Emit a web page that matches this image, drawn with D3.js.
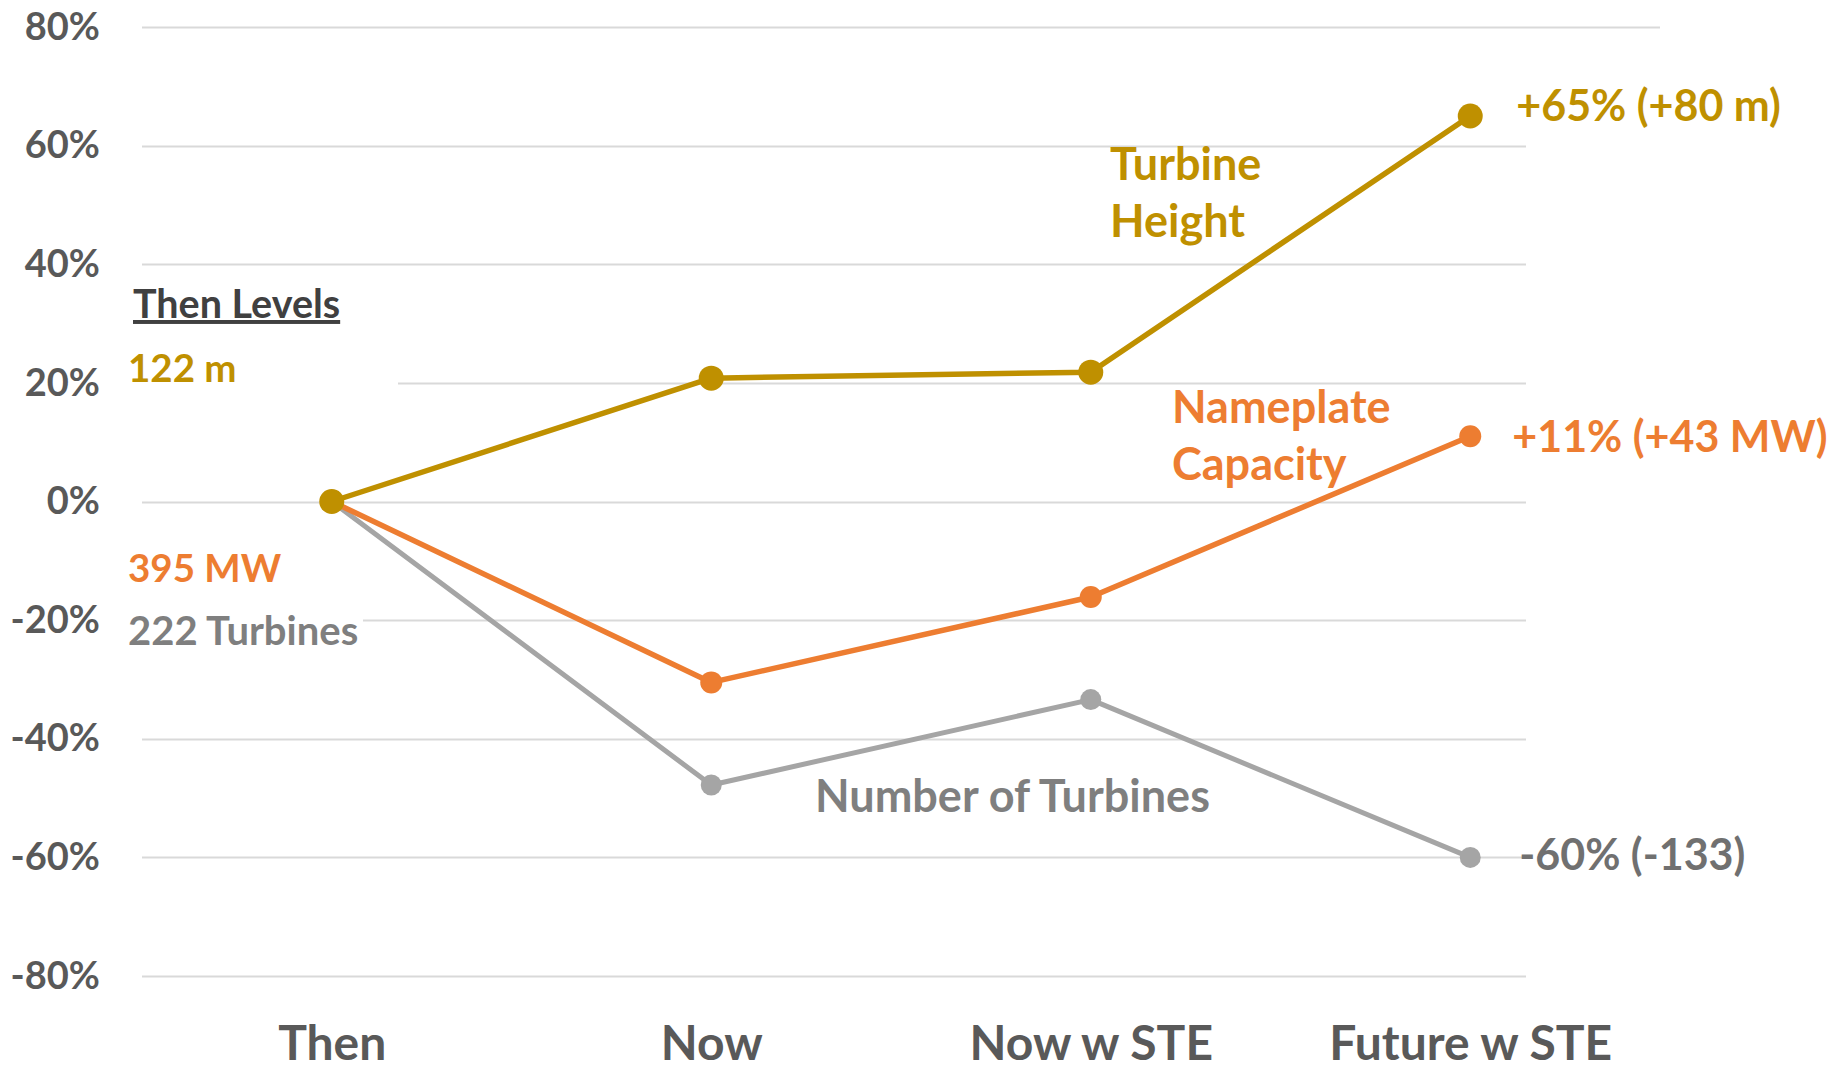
<!DOCTYPE html>
<html>
<head>
<meta charset="utf-8">
<script src="https://cdn.jsdelivr.net/npm/d3@7"></script>
<style>
  body { margin: 0; background: #fff; }
  text { font-family: Lato, "Open Sans", sans-serif; font-weight: bold; }
</style>
</head>
<body>
<script>
// data (% change relative to "Then")
var categories = ["Then", "Now", "Now w STE", "Future w STE"];
var heightPct = [0, 20.8, 21.8, 65];
var capacityPct = [0, -30.5, -16.1, 11];
var turbinesPct = [0, -47.8, -33.4, -60];
var yTicks = [-80, -60, -40, -20, 0, 20, 40, 60, 80];
var seriesNames = ["Turbine Height", "Nameplate Capacity", "Number of Turbines"];
var endLabels = ["+65% (+80 m)", "+11% (+43 MW)", "-60% (-133)"];
var thenLevels = ["122 m", "395 MW", "222 Turbines"];

var width = 1827, height = 1065;
var plot = {left: 142, right: 1660, top: 27, bottom: 976};

var svg = d3.select("body").append("svg")
    .attr("width", width)
    .attr("height", height);

var x = d3.scalePoint()
    .domain(categories)
    .range([plot.left, plot.right])
    .padding(0.5);

var y = d3.scaleLinear()
    .domain([-80, 80])
    .range([plot.bottom, plot.top]);

// gridlines
svg.append("g").selectAll("line")
    .data(yTicks)
  .enter().append("line")
    .attr("x1", plot.left)
    .attr("x2", plot.right)
    .attr("y1", function(d) { return Math.round(y(d)) + 0.5; })
    .attr("y2", function(d) { return Math.round(y(d)) + 0.5; })
    .style("stroke", "#d9d9d9")
    .style("stroke-width", 2);

// white text-box backgrounds that hide parts of the grid (as in the original)
svg.append("rect").attr("x", plot.left - 2).attr("y", y(24)).attr("width", 398 - plot.left + 2).attr("height", 40).style("fill", "#fff");
svg.append("rect").attr("x", plot.left - 2).attr("y", y(-16)).attr("width", 363 - plot.left + 2).attr("height", 40).style("fill", "#fff");
svg.append("rect").attr("x", 1526).attr("y", y(66)).attr("width", 140).attr("height", y(-84) - y(66)).style("fill", "#fff");

// axes
var yAxis = d3.axisLeft(y)
    .tickValues(yTicks)
    .tickSize(0)
    .tickPadding(42)
    .tickFormat(function(d) { return d + "%"; });

svg.append("g")
    .attr("transform", "translate(" + plot.left + ",0)")
    .call(yAxis)
    .call(function(g) { g.select(".domain").remove(); })
    .selectAll("text")
      .style("font-family", "Lato, sans-serif")
      .style("font-size", "38px")
      .style("font-weight", "bold")
      .style("fill", "#595959");

var xAxis = d3.axisBottom(x)
    .tickSize(0)
    .tickPadding(50);

svg.append("g")
    .attr("transform", "translate(0," + plot.bottom + ")")
    .call(xAxis)
    .call(function(g) { g.select(".domain").remove(); })
    .selectAll("text")
      .style("font-family", "Lato, sans-serif")
      .style("font-size", "48px")
      .style("font-weight", "bold")
      .style("fill", "#595959");

// series, drawn gray first so gold sits on top
var series = [
  {name: seriesNames[2], values: turbinesPct, color: "#a5a5a5", r: 10.5, w: 5},
  {name: seriesNames[1], values: capacityPct, color: "#ed7d31", r: 11, w: 5.5},
  {name: seriesNames[0], values: heightPct, color: "#bf9000", r: 12.5, w: 5.5}
];

var line = d3.line()
    .x(function(d, i) { return x(categories[i]); })
    .y(function(d) { return y(d); });

series.forEach(function(s) {
  svg.append("path")
      .datum(s.values)
      .attr("d", line)
      .style("fill", "none")
      .style("stroke", s.color)
      .style("stroke-width", s.w)
      .style("stroke-linejoin", "round");

  svg.append("g").selectAll("circle")
      .data(s.values)
    .enter().append("circle")
      .attr("cx", function(d, i) { return x(categories[i]); })
      .attr("cy", function(d) { return y(d); })
      .attr("r", s.r)
      .style("fill", s.color);
});

// end-of-line labels
var last = categories[categories.length - 1];
var endInfo = [
  {text: endLabels[0], v: heightPct[3], color: "#bf9000", dx: 46, dy: 5},
  {text: endLabels[1], v: capacityPct[3], color: "#ed7d31", dx: 42, dy: 16},
  {text: endLabels[2], v: turbinesPct[3], color: "#707070", dx: 49, dy: 13}
];
svg.append("g").selectAll("text")
    .data(endInfo)
  .enter().append("text")
    .attr("x", function(d) { return x(last) + d.dx; })
    .attr("y", function(d) { return y(d.v) + d.dy; })
    .style("font-size", "43px")
    .style("fill", function(d) { return d.color; })
    .text(function(d) { return d.text; });

// series name labels
var nameInfo = [
  {lines: ["Turbine", "Height"], x: 1110, y: 180, color: "#bf9000"},
  {lines: ["Nameplate", "Capacity"], x: 1172, y: 423, color: "#ed7d31"},
  {lines: ["Number of Turbines"], x: 815, y: 812, color: "#7f7f7f"}
];
nameInfo.forEach(function(n) {
  var t = svg.append("text")
      .attr("x", n.x)
      .attr("y", n.y)
      .style("font-size", "45px")
      .style("fill", n.color);
  n.lines.forEach(function(l, i) {
    t.append("tspan")
        .attr("x", n.x)
        .attr("dy", i ? 57 : 0)
        .text(l);
  });
});

// "Then Levels" block
svg.append("text")
    .attr("x", 133)
    .attr("y", 318)
    .style("font-size", "39.5px")
    .style("fill", "#404040")
    .style("text-decoration", "underline")
    .text("Then Levels");

var levelInfo = [
  {text: thenLevels[0], y: 382, color: "#bf9000"},
  {text: thenLevels[1], y: 582, color: "#ed7d31"},
  {text: thenLevels[2], y: 645, color: "#7f7f7f"}
];
svg.append("g").selectAll("text")
    .data(levelInfo)
  .enter().append("text")
    .attr("x", 128)
    .attr("y", function(d) { return d.y; })
    .style("font-size", function(d, i) { return i == 2 ? "40px" : "38.5px"; })
    .style("fill", function(d) { return d.color; })
    .text(function(d) { return d.text; });
</script>
</body>
</html>
